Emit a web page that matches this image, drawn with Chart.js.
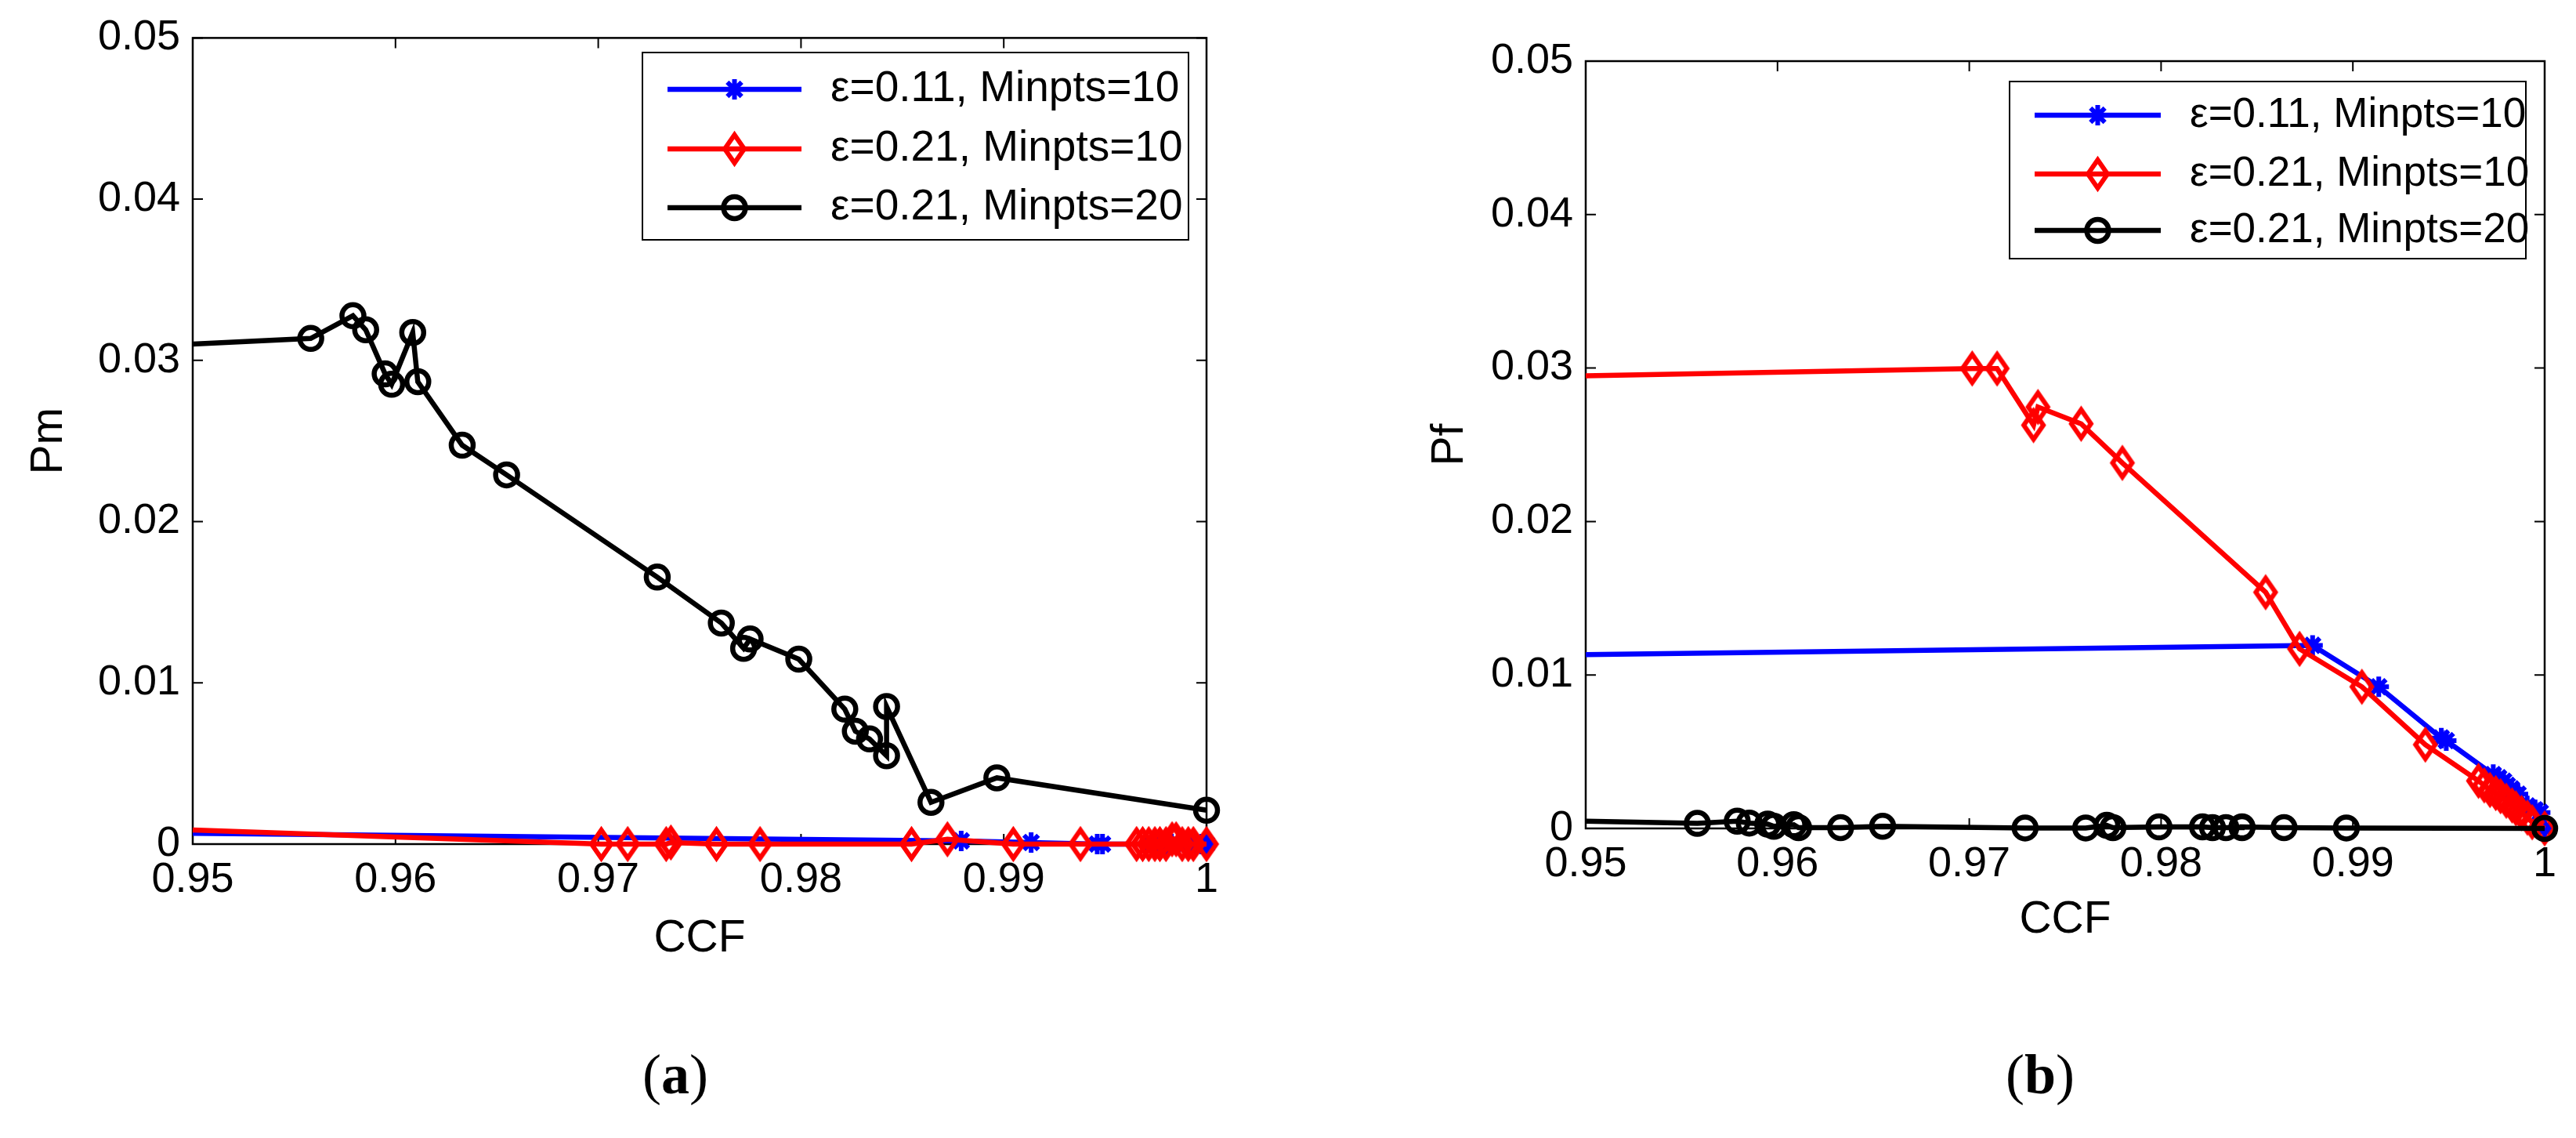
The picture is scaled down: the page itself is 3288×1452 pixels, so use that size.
<!DOCTYPE html>
<html><head><meta charset="utf-8">
<script src="https://cdn.jsdelivr.net/npm/chart.js@4.4.1/dist/chart.umd.min.js"></script>
<style>
html,body{margin:0;padding:0;background:#fff;}
body{width:3288px;height:1452px;position:relative;overflow:hidden;}
canvas{position:absolute;top:0;}
.lab{position:absolute;width:300px;text-align:center;font-family:"Liberation Serif","Times New Roman",serif;font-size:72px;line-height:72px;color:#000;}
</style></head><body>
<canvas id="cA" width="1644" height="1452" style="left:0;width:1644px;height:1452px"></canvas>
<canvas id="cB" width="1644" height="1452" style="left:1644px;width:1644px;height:1452px"></canvas>
<div class="lab" style="left:712px;top:1335px">(<b>a</b>)</div>
<div class="lab" style="left:2454px;top:1335px">(<b>b</b>)</div>
<script>
// ---------------- data ----------------
const xTickValues = [0.95, 0.96, 0.97, 0.98, 0.99, 1];
const xTickLabels = ['0.95', '0.96', '0.97', '0.98', '0.99', '1'];
const yTickValues = [0, 0.01, 0.02, 0.03, 0.04, 0.05];
const yTickLabels = ['0', '0.01', '0.02', '0.03', '0.04', '0.05'];
const seriesLabels = ['ε=0.11, Minpts=10', 'ε=0.21, Minpts=10', 'ε=0.21, Minpts=20'];
const xTitle = 'CCF';
const yTitleA = 'Pm';
const yTitleB = 'Pf';

// ε=0.11, Minpts=10
const ccfBlue = [0.95, 0.9879, 0.99135, 0.99461, 0.99487, 0.99732, 0.9976, 0.99786, 0.99805, 0.99827, 0.99861, 0.99909, 0.9995, 0.99977, 1.0];
const pmBlue  = [0.00067, 0.0002, 0.0001, 0, 0, 0, 0, 0, 0, 0, 0, 0, 0, 0, 0];
const pfBlue  = [0.01132, 0.01193, 0.00923, 0.00589, 0.00572, 0.00351, 0.0033, 0.00308, 0.0028, 0.00257, 0.00223, 0.00147, 0.00121, 0.00104, 0];

// ε=0.21, Minpts=10
const ccfRed = [0.95, 0.97015, 0.97145, 0.97335, 0.97358, 0.97583, 0.97798, 0.98545, 0.98722, 0.99047, 0.99378, 0.99655, 0.99685, 0.99715, 0.99745, 0.9977, 0.998, 0.9983, 0.9985, 0.9988, 0.9991, 0.99935, 1.0];
const pmRed  = [0.00088, 0, 0, 0, 0.0001, 0, 0, 0, 0.0003, 0, 0, 0, 0, 0, 0, 0, 0, 0.0003, 0.0003, 0, 0, 0, 0];
const pfRed  = [0.0295, 0.02997, 0.02997, 0.02628, 0.02746, 0.02637, 0.02382, 0.01539, 0.0117, 0.00923, 0.00546, 0.0031, 0.0028, 0.0025, 0.0023, 0.0021, 0.0018, 0.0015, 0.0013, 0.001, 0.0007, 0.0004, 0];

// ε=0.21, Minpts=20
const ccfBlack = [0.95, 0.95582, 0.9579, 0.95853, 0.95949, 0.95981, 0.96085, 0.9611, 0.96329, 0.96548, 0.97291, 0.97607, 0.97717, 0.97749, 0.97989, 0.98216, 0.98268, 0.98338, 0.98422, 0.98422, 0.98641, 0.98966, 1.0];
const pmBlack  = [0.03101, 0.03136, 0.03277, 0.0319, 0.02916, 0.02852, 0.03173, 0.02868, 0.02474, 0.0229, 0.01656, 0.01371, 0.01214, 0.01272, 0.01147, 0.00837, 0.007, 0.00652, 0.00548, 0.00853, 0.00259, 0.00411, 0.0021];
const pfBlack  = [0.00047, 0.00033, 0.00047, 0.00035, 0.00028, 0.00014, 0.00024, 0.00005, 0.00005, 0.00014, 0.00003, 0.00003, 0.0002, 0.00005, 0.0001, 0.0001, 0.00005, 0.00005, 0.00005, 0.0001, 0.00005, 0.00003, 0];

// ---------------- styling helpers ----------------
const FONT = '"Liberation Sans", Arial, Helvetica, sans-serif';
Chart.defaults.color = '#000';
Chart.defaults.font.family = FONT;

function makeDiamond(color, hw, hh, lw) {
  const c = document.createElement('canvas');
  c.width = Math.ceil(2 * hw + 4 * lw);
  c.height = Math.ceil(2 * hh + 4 * lw);
  const g = c.getContext('2d');
  g.strokeStyle = color; g.lineWidth = lw; g.lineJoin = 'miter'; g.miterLimit = 10;
  const cx = c.width / 2, cy = c.height / 2;
  g.beginPath();
  g.moveTo(cx, cy - hh); g.lineTo(cx + hw, cy); g.lineTo(cx, cy + hh); g.lineTo(cx - hw, cy);
  g.closePath(); g.stroke();
  return c;
}
const diamondRed = makeDiamond('#ff0000', 12.5, 18, 6);

function pts(xs, ys) { return xs.map((v, i) => ({ x: v, y: ys[i] })); }
const edgeless = r => (ctx => ctx.dataIndex === 0 ? 0 : r);

function makeDatasets(yBlue, yRed, yBlack) {
  return [
    { label: seriesLabels[0], data: pts(ccfBlue, yBlue), borderColor: '#0000ff', backgroundColor: '#0000ff',
      borderWidth: 6.5, pointStyle: 'star', pointRadius: edgeless(13), pointBorderWidth: 6,
      pointBorderColor: '#0000ff', pointBackgroundColor: 'rgba(0,0,0,0)', order: 3, clip: false, tension: 0 },
    { label: seriesLabels[1], data: pts(ccfRed, yRed), borderColor: '#ff0000', backgroundColor: '#ff0000',
      borderWidth: 6.5, pointStyle: diamondRed, pointRadius: edgeless(16), pointBorderWidth: 6,
      pointBorderColor: '#ff0000', pointBackgroundColor: 'rgba(0,0,0,0)', order: 2, clip: false, tension: 0 },
    { label: seriesLabels[2], data: pts(ccfBlack, yBlack), borderColor: '#000000', backgroundColor: '#000000',
      borderWidth: 6.5, pointStyle: 'circle', pointRadius: edgeless(14), pointBorderWidth: 6.5,
      pointBorderColor: '#000000', pointBackgroundColor: 'rgba(0,0,0,0)', order: 1, clip: false, tension: 0 }
  ];
}

// box + inward ticks (drawn beneath data, like MATLAB)
const TICK_LEN = 13;
const axesBox = {
  id: 'axesBox',
  beforeDatasetsDraw(chart) {
    const { ctx, chartArea: a, scales: { x, y } } = chart;
    ctx.save();
    ctx.strokeStyle = '#000';
    ctx.lineWidth = 2.5;
    ctx.strokeRect(a.left, a.top, a.right - a.left, a.bottom - a.top);
    ctx.lineWidth = 2;
    ctx.beginPath();
    x.ticks.forEach(t => {
      const p = x.getPixelForValue(t.value);
      ctx.moveTo(p, a.bottom); ctx.lineTo(p, a.bottom - TICK_LEN);
      ctx.moveTo(p, a.top); ctx.lineTo(p, a.top + TICK_LEN);
    });
    y.ticks.forEach(t => {
      const p = y.getPixelForValue(t.value);
      ctx.moveTo(a.left, p); ctx.lineTo(a.left + TICK_LEN, p);
      ctx.moveTo(a.right, p); ctx.lineTo(a.right - TICK_LEN, p);
    });
    ctx.stroke();
    ctx.restore();
  }
};

function drawMarker(ctx, ds, x, y) {
  const st = ds.pointStyle;
  ctx.save();
  ctx.strokeStyle = ds.pointBorderColor;
  ctx.lineWidth = ds.pointBorderWidth;
  if (typeof st === 'object') {
    ctx.drawImage(st, x - st.width / 2, y - st.height / 2);
  } else if (st === 'circle') {
    ctx.beginPath(); ctx.arc(x, y, 14, 0, Math.PI * 2); ctx.stroke();
  } else if (st === 'star') {
    const r = 13, d = r * Math.SQRT1_2;
    ctx.beginPath();
    ctx.moveTo(x - r, y); ctx.lineTo(x + r, y);
    ctx.moveTo(x, y - r); ctx.lineTo(x, y + r);
    ctx.moveTo(x - d, y - d); ctx.lineTo(x + d, y + d);
    ctx.moveTo(x - d, y + d); ctx.lineTo(x + d, y - d);
    ctx.stroke();
  }
  ctx.restore();
}

const boxLegend = {
  id: 'boxLegend',
  afterDraw(chart, args, opts) {
    const { ctx } = chart;
    const [x1, y1, x2, y2] = opts.box;
    ctx.save();
    ctx.fillStyle = '#fff';
    ctx.fillRect(x1, y1, x2 - x1, y2 - y1);
    ctx.strokeStyle = '#000'; ctx.lineWidth = 2;
    ctx.strokeRect(x1, y1, x2 - x1, y2 - y1);
    chart.data.datasets.forEach((ds, i) => {
      const ry = opts.rows[i];
      ctx.strokeStyle = ds.borderColor; ctx.lineWidth = ds.borderWidth; ctx.lineCap = 'butt';
      ctx.beginPath(); ctx.moveTo(opts.line[0], ry); ctx.lineTo(opts.line[1], ry); ctx.stroke();
      drawMarker(ctx, ds, (opts.line[0] + opts.line[1]) / 2, ry);
      ctx.fillStyle = '#000';
      ctx.font = opts.fontSize + 'px ' + FONT;
      ctx.textAlign = 'left'; ctx.textBaseline = 'middle';
      ctx.fillText(ds.label, opts.textX, ry);
    });
    ctx.restore();
  }
};

function makeChart(id, yTitle, datasets, L) {
  return new Chart(document.getElementById(id), {
    type: 'line',
    data: { datasets },
    plugins: [axesBox, boxLegend],
    options: {
      responsive: false, animation: false, devicePixelRatio: 1,
      layout: { padding: { left: 0, right: L.padRight, top: L.padTop, bottom: L.padBottom } },
      plugins: { legend: { display: false }, tooltip: { enabled: false }, boxLegend: L.legend },
      scales: {
        x: {
          type: 'linear', min: 0.95, max: 1,
          afterBuildTicks: s => { s.ticks = xTickValues.map(v => ({ value: v })); },
          afterFit: s => { s.height = L.xAxisH; },
          grid: { display: false, drawTicks: false }, border: { display: false },
          ticks: { autoSkip: false, maxRotation: 0, minRotation: 0, padding: 14,
                   font: { size: 54, lineHeight: 1.2 }, callback: (v, i) => xTickLabels[i] },
          title: { display: true, text: xTitle, font: { size: 57, lineHeight: 1.2 },
                   padding: { top: 0, bottom: L.xTitlePad } }
        },
        y: {
          type: 'linear', min: 0, max: 0.05,
          afterBuildTicks: s => { s.ticks = yTickValues.map(v => ({ value: v })); },
          afterFit: s => { s.width = L.yAxisW; },
          grid: { display: false, drawTicks: false }, border: { display: false },
          ticks: { autoSkip: false, padding: 16, font: { size: 54, lineHeight: 1.2 },
                   callback: (v, i) => yTickLabels[i] },
          title: { display: true, text: yTitle, font: { size: 57, lineHeight: 1.2 },
                   padding: { top: L.yTitlePad, bottom: 0 } }
        }
      }
    }
  });
}

makeChart('cA', yTitleA, makeDatasets(pmBlue, pmRed, pmBlack), {
  padRight: 104, padTop: 39, padBottom: 175, xAxisH: 200, yAxisW: 246,
  xTitlePad: 45, yTitlePad: 29,
  legend: { box: [820, 67, 1517, 306], rows: [114, 190, 265], line: [852, 1023], textX: 1060, fontSize: 55 }
});
makeChart('cB', yTitleB, makeDatasets(pfBlue, pfRed, pfBlack), {
  padRight: 40, padTop: 78, padBottom: 195, xAxisH: 200, yAxisW: 380,
  xTitlePad: 49, yTitlePad: 173,
  legend: { box: [921, 104, 1580, 330], rows: [147, 222, 294], line: [953, 1114], textX: 1151, fontSize: 53 }
});
</script>
</body></html>
